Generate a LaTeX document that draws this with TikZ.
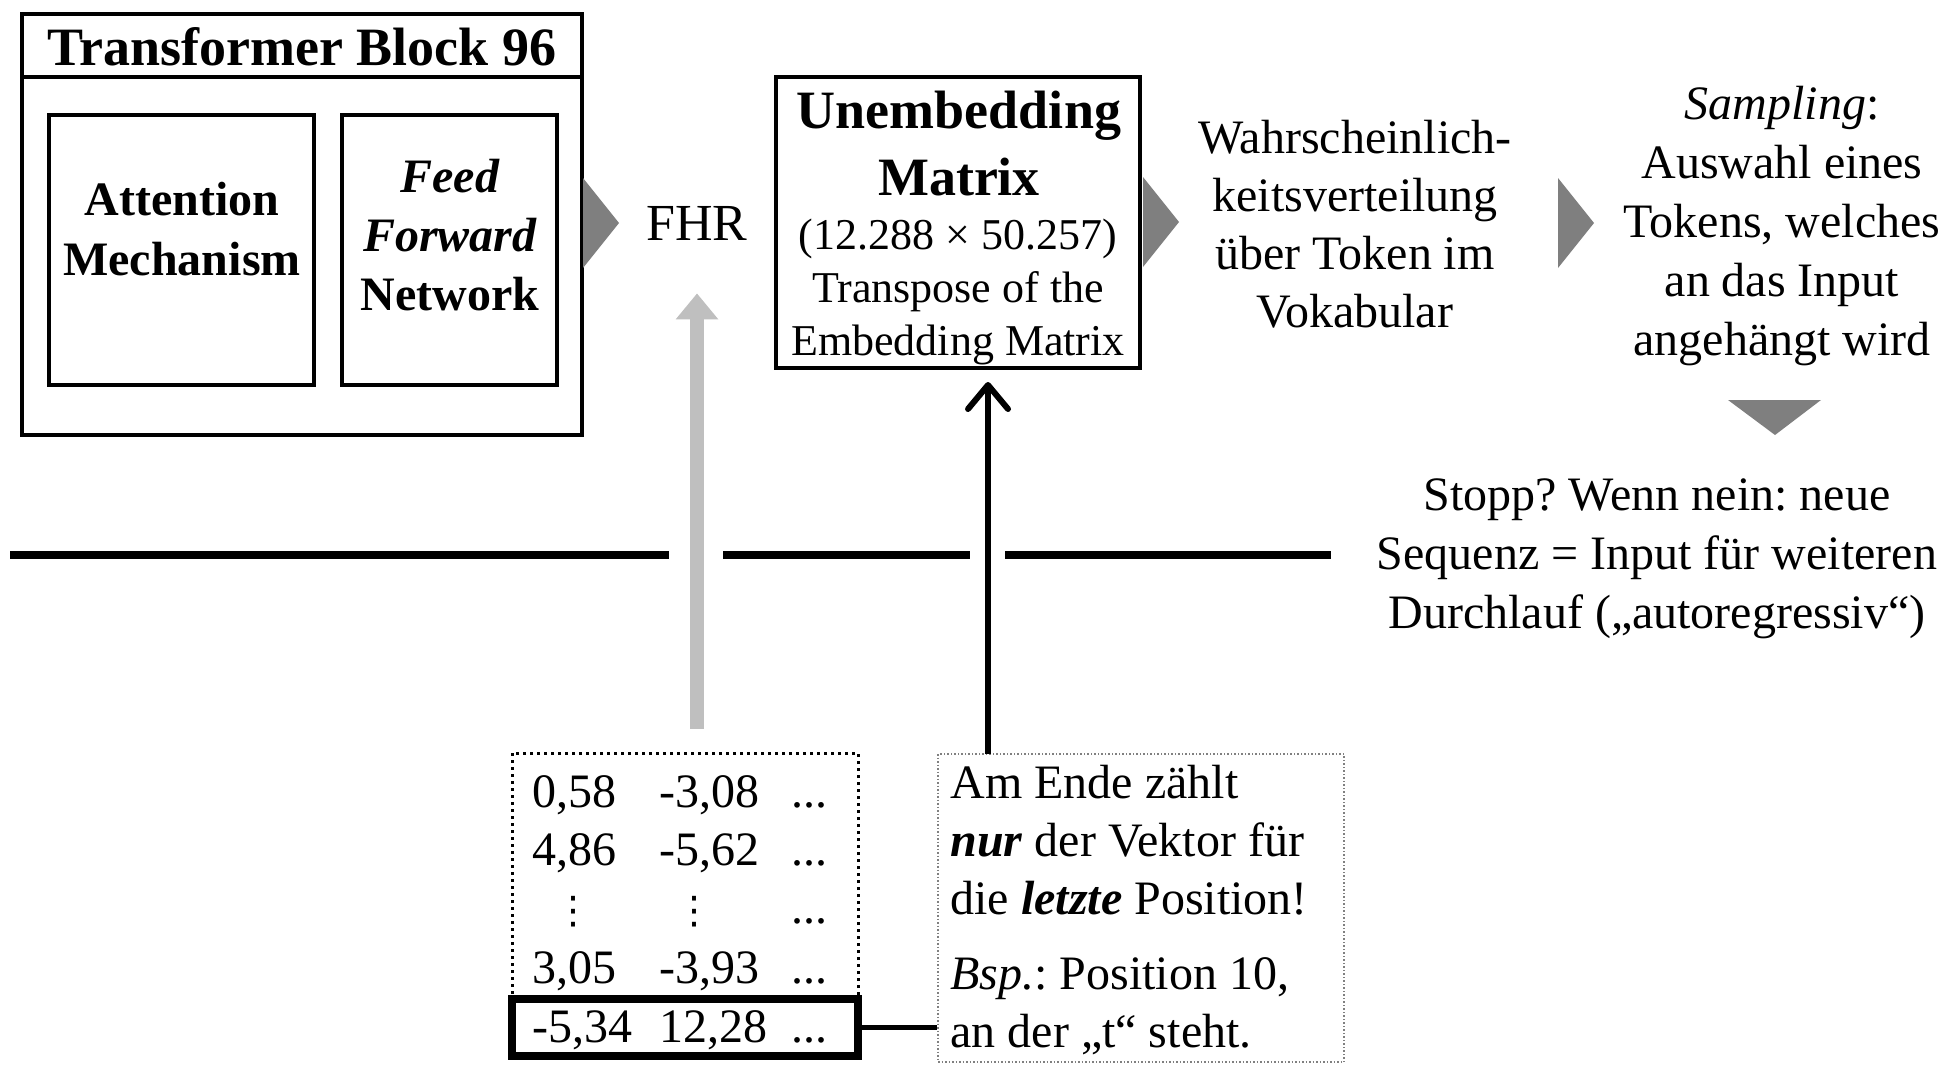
\documentclass[tikz,border=0pt]{standalone}
\usepackage{fontspec}
\setmainfont{Liberation Serif}
\newfontfamily\dotsfont{DejaVu Sans}
\usetikzlibrary{arrows.meta,fit}
\frenchspacing
\definecolor{trigray}{HTML}{7F7F7F}
\definecolor{arrgray}{HTML}{BFBFBF}
\definecolor{notegray}{HTML}{808080}

\tikzset{
  box/.style={draw, line width=2pt, inner sep=0pt},
  txt/.style={font=\fontsize{24}{29}\selectfont, align=center, inner sep=0pt, anchor=base},
  num/.style={font=\fontsize{24}{29}\selectfont, inner sep=0pt, anchor=base west},
  garrow/.style={draw=arrgray, line width=7pt, -{Triangle[length=13pt,width=20.5pt]}, {Triangle[length=13pt,width=20.5pt]}-},
  barrow/.style={line width=3pt, -{Straight Barb[length=12pt,width=20pt,round]}}
}

\begin{document}
\begin{tikzpicture}[x=0.5pt, y=-0.5pt]
	\useasboundingbox (0,0) rectangle (1954,1066);

	\node[box, fit={(22,14) (582,435)}] (tb) {};
	\draw[line width=2pt] (22,77) -- (582,77);
	\node[txt, font=\fontsize{27}{32}\selectfont\bfseries] (tbtitle) at (302,65) {Transformer Block 96};
	\node[box, fit={(49,115) (314,385)}] (att) {};
	\node[txt, font=\fontsize{24}{30}\selectfont\bfseries] (atttxt) at (182,275) {Attention\\Mechanism};
	\node[box, fit={(342,115) (557,385)}] (ffn) {};
	\node[txt, font=\fontsize{24}{29.5}\selectfont\bfseries] (ffntxt) at (450,310) {\textit{Feed}\\\textit{Forward}\\Network};

	\foreach \x/\y in {583/223, 1143/222, 1558/223}
		\fill[trigray] (\x,\y-45) -- (\x+36,\y) -- (\x,\y+45) -- cycle;
	\fill[trigray] (1728,400) -- (1775,435) -- (1821,400) -- cycle;

	\node[txt, font=\fontsize{26}{30}\selectfont] (fhr) at (697,240) {FHR};

	\node[box, fit={(776,77) (1140,368)}] (unemb) {};
	\node[txt, font=\fontsize{27}{33.5}\selectfont\bfseries] (unembtitle) at (959,195) {Unembedding\\Matrix};
	\node[txt, font=\fontsize{22}{26.5}\selectfont] (unembsub) at (958,355) {(12.288 × 50.257)\\Transpose of the\\Embedding Matrix};

	\node[txt] (prob) at (1355,327) {Wahrscheinlich-\\keitsverteilung\\über Token im\\Vokabular};
	\node[txt, font=\fontsize{24}{29.5}\selectfont] (samp) at (1782,355) {\textit{Sampling}:\\Auswahl eines\\Tokens, welches\\an das Input\\angehängt wird};
	\node[txt, font=\fontsize{24}{29.5}\selectfont] (stop) at (1657,628) {Stopp? Wenn nein: neue\\Sequenz = Input für weiteren\\Durchlauf („autoregressiv“)};

	\foreach \a/\b in {10/669, 723/970, 1005/1331}
		\draw[line width=4pt] (\a,555) -- (\b,555);

	\node[draw, line width=1.5pt, dash pattern=on 1.5pt off 2pt, inner sep=0pt, fit={(512,753) (858,999)}] (mat) {};
	\node[draw, line width=4pt, inner sep=0pt, fit={(512,999) (858,1056)}] (last) {};
	\foreach \r/\y/\a/\b in {1/807/{0,58}/{-3,08}, 2/865/{4,86}/{-5,62}, 4/983/{3,05}/{-3,93}, 5/1042/{-5,34}/{12,28}} {
		\node[num] (v\r a) at (532,\y) {\a};
		\node[num] (v\r b) at (659,\y) {\b};
		\node[num] (v\r c) at (791,\y) {...};
	}
	\node[txt, font=\fontsize{19}{22}\dotsfont] (v3a) at (573,923) {⋮};
	\node[txt, font=\fontsize{19}{22}\dotsfont] (v3b) at (694,923) {⋮};
	\node[num] (v3c) at (791,923) {...};

	\node[draw=notegray, line width=0.75pt, densely dotted, inner sep=0pt, fit={(938,754) (1344,1062)}] (note) {};
	\node[txt, align=left, anchor=base west] (notetxt) at (950,1047) {Am Ende zählt\\\textbf{\textit{nur}} der Vektor für\\die \textbf{\textit{letzte}} Position!\\[8.5pt]\textit{Bsp.}: Position 10,\\an der „t“ steht.};

	\draw[garrow, shorten <=26.5pt, shorten >=11.5pt] (fhr.south) -- (fhr.south |- mat.north);
	\coordinate (up) at (988,754);
	\draw[barrow, shorten >=6pt] (up) -- (up |- unemb.south);
	\draw[line width=2.5pt] (last.east) -- (last.east -| note.west);
\end{tikzpicture}
\end{document}
